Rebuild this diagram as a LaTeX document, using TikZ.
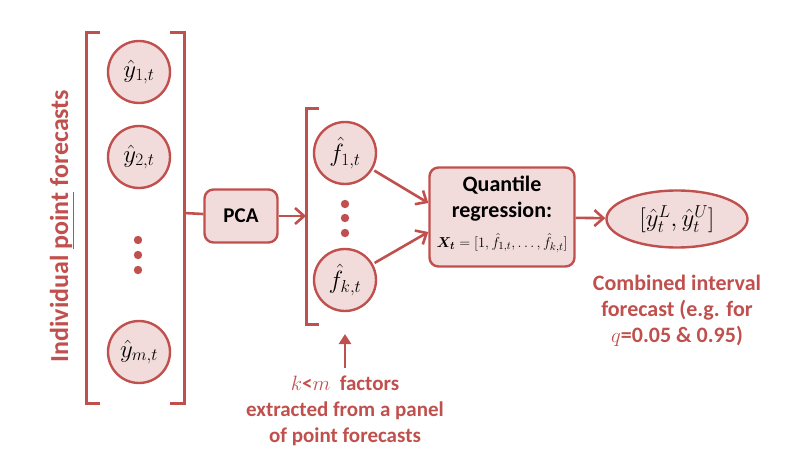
\documentclass[tikz,border=0pt]{standalone}
\usepackage{fontspec}
\usepackage{bm}
\setsansfont{Carlito}
\usetikzlibrary{arrows.meta,shapes.geometric}
\definecolor{fcred}{RGB}{192,80,77}
\definecolor{fcpink}{RGB}{242,220,219}
\tikzset{
  fcircle/.style={circle, draw=fcred, fill=fcpink, line width=2.4pt, minimum size=62pt, inner sep=0pt, font=\fontsize{25}{27}\selectfont},
  fbox/.style={rounded corners=9pt, draw=fcred, fill=fcpink, line width=2.4pt, font=\sffamily\bfseries\fontsize{21}{26}\selectfont},
  bracket/.style={draw=fcred, line width=3pt},
  flow/.style={draw=fcred, line width=2.6pt, -{Straight Barb[length=9pt,width=16pt,line width=2.6pt]}},
  redtext/.style={text=fcred, font=\sffamily\bfseries\fontsize{21}{26}\selectfont, align=center}
}
\begin{document}
\begin{tikzpicture}[x=1pt,y=-1pt]
  \useasboundingbox (0,0) rectangle (800,473);
  % Left bracket with individual forecasts
  \draw[bracket] (100,33) -- (86,33) -- (86,403) -- (100,403);
  \draw[bracket] (170,33) -- (184,33) -- (184,403) -- (170,403);
  \coordinate (lb) at (184,213);
  \node[fcircle] (y1) at (139,72) {$\hat{y}_{1,t}$};
  \node[fcircle] (y2) at (139,157) {$\hat{y}_{2,t}$};
  \node[fcircle] (ym) at (139,352) {$\hat{y}_{m,t}$};
  \foreach \yy in {240,255,270} {
    \fill[fcred] (138,\yy) circle (4.2pt);
  }
  \node[redtext, rotate=90, font=\sffamily\bfseries\fontsize{26}{30}\selectfont] (ind) at (62,226) {Individual \underline{point} forecasts};
  % PCA step
  \node[fbox, minimum width=73pt, minimum height=53pt] (pca) at (241,216) {PCA};
  \draw[draw=fcred, line width=2.6pt] (lb) -- (pca);
  % Factor bracket
  \draw[bracket] (319,109) -- (306,109) -- (306,324) -- (319,324);
  \coordinate (fb) at (306,216);
  \draw[flow] (pca) -- (fb);
  \node[fcircle] (f1) at (345,153) {$\hat{f}_{1,t}$};
  \node[fcircle] (fk) at (345,280) {$\hat{f}_{k,t}$};
  \foreach \yy in {204,218,233} {
    \fill[fcred] (345,\yy) circle (4.2pt);
  }
  % Quantile regression
  \node[fbox, minimum width=145pt, minimum height=99pt, align=center] (qr) at (502,217) {};
  \node[font=\sffamily\bfseries\fontsize{22}{26}\selectfont, align=center] (qrtxt) at (502,199) {Quantile\\regression:};
  \node[font=\fontsize{15}{17}\selectfont] (qrx) at (502,243) {$\bm{X_t}=[1,\hat{f}_{1,t},\ldots,\hat{f}_{k,t}]$};
  \draw[flow, shorten <=2pt] (f1) -- (qr.west |- 0,203);
  \draw[flow, shorten <=2pt] (fk) -- (qr.west |- 0,232);
  % Interval forecast
  \node[ellipse, draw=fcred, fill=fcpink, line width=2.4pt, minimum width=141pt, minimum height=57pt, font=\fontsize{23}{25}\selectfont] (ci) at (677,219) {$[\hat{y}_t^L,\hat{y}_t^U]$};
  \draw[flow] (qr) -- (ci);
  \node[redtext, font=\sffamily\bfseries\fontsize{22}{26}\selectfont] (citxt) at (677,311) {Combined interval\\forecast (e.g. for\\$q$=0.05 \& 0.95)};
  % Note on factors
  \node[redtext] (note) at (345,411) {$k$<$m$ \ factors\\extracted from a panel\\of point forecasts};
  \coordinate (nt) at (345,368);
  \draw[draw=fcred, line width=2.6pt, -{Triangle[length=10pt,width=12pt]}] (nt) -- (345,334);
\end{tikzpicture}
\end{document}
